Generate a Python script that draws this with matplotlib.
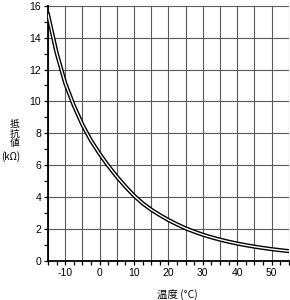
import matplotlib
matplotlib.use("Agg")
import matplotlib.pyplot as plt
from matplotlib.ticker import MultipleLocator, FuncFormatter

# temperature (degC) vs resistance (kOhm)
temps = [-15, -12.5, -10, -7.5, -5, -2.5, 0, 2.5, 5, 7.5, 10, 12.5, 15, 17.5,
         20, 22.5, 25, 27.5, 30, 32.5, 35, 37.5, 40, 42.5, 45, 47.5, 50, 52.5, 55]
resist = [15.45, 13.05, 11.15, 9.75, 8.55, 7.55, 6.72, 5.97, 5.29, 4.67, 4.1, 3.62, 3.22, 2.88,
          2.57, 2.3, 2.05, 1.84, 1.65, 1.487, 1.341, 1.211, 1.095, 0.993, 0.901, 0.819, 0.745, 0.679, 0.62]

ylabel_lines = ["抵", "抗", "値", "(kΩ)"]
xlabel_text = "温度 (°C)"

plt.rcParams['font.family'] = ['Liberation Sans', 'Noto Sans CJK JP', 'DejaVu Sans']

fig = plt.figure(figsize=(2.9, 3.0), dpi=100)
ax = fig.add_axes([0.1655, 0.13, 0.83, 0.851])

# double line: thick black with white core
ax.plot(temps, resist, color='black', lw=3.0, solid_joinstyle='round', zorder=3)
ax.plot(temps, resist, color='white', lw=1.0, solid_joinstyle='round', zorder=4)

ax.set_xlim(-15, 55)
ax.set_ylim(0, 16)

ax.xaxis.set_major_locator(MultipleLocator(5))
ax.xaxis.set_minor_locator(MultipleLocator(2.5))
ax.xaxis.set_major_formatter(FuncFormatter(lambda v, p: f"{int(v)}" if int(round(v)) % 10 == 0 else ""))
ax.yaxis.set_major_locator(MultipleLocator(2))
ax.yaxis.set_minor_locator(MultipleLocator(1))

ax.grid(True, which='major', color='#5a5a5a', lw=0.8)
ax.set_axisbelow(True)

for s in ['top', 'right']:
    ax.spines[s].set_visible(False)
for s in ['left', 'bottom']:
    ax.spines[s].set_linewidth(1.3)

ax.tick_params(which='both', direction='out', length=3, width=0.9, labelsize=7.5, pad=2)

# vertical y label, one line per text so the CJK glyphs stack properly
ylab_y = [123.5, 133.5, 143, 157]  # pixels from top
for txt, yp in zip(ylabel_lines, ylab_y):
    xp = 15 if len(txt) == 1 else 11
    fig.text(xp / 290, 1 - yp / 300, txt, ha='center', va='center', fontsize=7,
             family=['Noto Sans CJK JP', 'DejaVu Sans'])

fig.text(0.61, 0.02, xlabel_text, ha='center', va='center', fontsize=7.5,
         family=['Noto Sans CJK JP', 'DejaVu Sans'])

fig.savefig("out.png", dpi=100)
